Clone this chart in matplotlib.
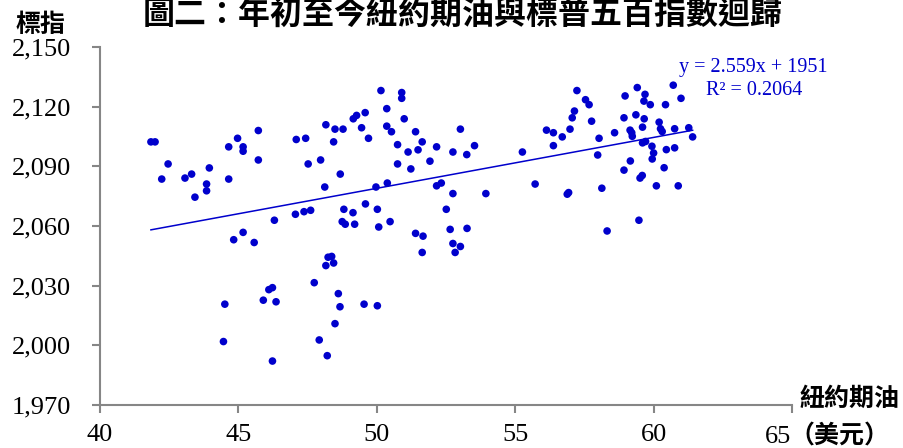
import numpy as np
import matplotlib.pyplot as plt

# 紐約期油 (美元) 與標普五百指數 weekly points
oil = [41.84, 41.99, 42.46, 42.23, 43.07, 43.31, 43.95, 43.85, 43.85, 43.43,
       44.65, 44.97, 45.17, 45.17, 45.72, 45.72, 44.65, 46.30, 44.83, 45.17,
       45.57, 44.51, 44.46, 45.90, 46.10, 46.23, 46.36, 46.23, 47.09, 47.43,
       47.52, 47.97, 48.16, 48.49, 48.78, 48.44, 48.68, 48.12, 47.06, 47.37,
       47.61, 48.81, 49.14, 48.75, 48.86, 49.20, 49.59, 48.24, 48.37, 48.16,
       48.44, 47.74, 48.61, 48.67, 48.49, 47.92, 48.21, 49.54, 49.15, 49.27,
       49.58, 49.45, 49.70,
       50.15, 50.90, 50.90, 50.36, 50.99, 50.36, 50.53, 51.40, 51.64, 50.75,
       51.13, 51.49, 52.16, 52.75, 53.02, 53.25, 53.53, 51.92, 50.75, 51.23,
       50.38, 49.97, 52.16, 52.33, 52.75, 53.94, 50.02, 50.07, 50.48, 51.40,
       51.67, 51.64, 52.51, 52.65, 53.26, 52.75, 53.02, 52.83, 50.02, 55.26,
       55.72, 56.13, 56.38, 56.70, 56.38, 56.98, 57.06, 57.14, 57.23, 56.93,
       56.88,
       57.54, 57.67, 57.76, 58.03, 57.98, 58.59, 58.93, 58.97, 59.41, 59.69,
       59.65, 59.88, 59.36, 59.66, 59.60, 59.15, 59.21, 59.23, 59.60, 59.71,
       59.94, 60.00, 59.95, 59.16, 58.93, 59.51, 59.59, 60.38, 60.10, 60.89,
       60.43, 60.71, 60.99, 60.20, 60.25, 60.31, 60.76, 61.27, 61.41, 60.46,
       60.76, 59.47, 58.32, 58.13]
spx = [2102.3, 2102.3, 2091.2, 2083.6, 2084.1, 2086.1, 2089.2, 2081.1, 2077.7, 2074.5,
       2099.8, 2104.1, 2099.8, 2097.6, 2108.0, 2093.2, 2083.6, 2062.9, 2053.1, 2056.8,
       2051.7, 2020.7, 2001.9, 2022.7, 2028.0, 2029.0, 2021.9, 1992.1, 2103.5, 2104.1,
       2091.2, 2093.2, 2110.9, 2108.7, 2108.7, 2102.3, 2086.1, 2079.6, 2065.9, 2067.2,
       2067.9, 2068.4, 2066.7, 2062.2, 2060.9, 2060.9, 2071.1, 2044.3, 2044.7, 2040.1,
       2041.4, 2031.5, 2026.0, 2019.4, 2010.9, 2002.7, 1994.8, 2020.7, 2113.9, 2115.6,
       2117.0, 2109.4, 2104.1,
       2128.1, 2127.1, 2124.2, 2119.0, 2113.9, 2110.2, 2107.4, 2107.4, 2102.3, 2100.9,
       2097.2, 2098.3, 2099.8, 2097.2, 2108.7, 2095.9, 2100.4, 2092.6, 2091.2, 2088.7,
       2081.6, 2079.6, 2080.2, 2081.6, 2076.3, 2076.3, 2068.4, 2059.5, 2062.2, 2056.3,
       2054.9, 2046.7, 2068.4, 2058.3, 2058.8, 2051.2, 2049.7, 2046.7, 2019.9, 2097.2,
       2081.1, 2108.2, 2106.9, 2104.8, 2100.4, 2108.7, 2114.4, 2117.8, 2128.1, 2076.8,
       2076.0,
       2123.5, 2121.0, 2112.7, 2104.1, 2095.7, 2106.9, 2114.4, 2125.4, 2129.6, 2126.2,
       2122.8, 2121.0, 2115.9, 2113.9, 2109.7, 2108.2, 2106.9, 2105.1, 2101.8, 2102.5,
       2100.1, 2096.7, 2093.7, 2092.7, 2088.1, 2084.1, 2085.4, 2089.3, 2080.2, 2080.2,
       2121.0, 2130.8, 2124.2, 2112.2, 2108.9, 2107.5, 2108.9, 2109.4, 2104.8, 2098.4,
       2099.3, 2062.9, 2057.5, 2079.0]

# linear trend as printed on the chart
slope = 2.559
intercept = 1951
r2 = 0.2064

x_ticks = [40, 45, 50, 55, 60, 65]
x_labels = ['40', '45', '50', '55', '60', '']
y_ticks = [1970, 2000, 2030, 2060, 2090, 2120, 2150]
y_labels = ['1,970', '2,000', '2,030', '2,060', '2,090', '2,120', '2,150']

blue = '#0000CC'
gray = '#868686'
cjk = 'Noto Sans CJK TC'
serif = 'Liberation Serif'

fig = plt.figure(figsize=(9.04, 4.48), dpi=100)
ax = fig.add_axes([100 / 904, 43 / 448, 692 / 904, 358 / 448])

ax.scatter(oil, spx, s=30, color=blue, edgecolors='none', zorder=3)

xs = np.array([min(oil), max(oil)])
ax.plot(xs, slope * xs + intercept, color=blue, lw=1.1, zorder=2)

ax.set_xlim(40, 65)
ax.set_ylim(1970, 2150)
ax.set_xticks(x_ticks)
ax.set_xticklabels(x_labels)
ax.set_yticks(y_ticks)
ax.set_yticklabels(y_labels)

for s in ['top', 'right']:
    ax.spines[s].set_visible(False)
for s in ['left', 'bottom']:
    ax.spines[s].set_color(gray)
    ax.spines[s].set_linewidth(1.5)
ax.tick_params(axis='both', colors=gray, width=1.5, length=6, direction='out',
               labelcolor='black', labelsize=19)
ax.tick_params(axis='y', pad=15)
ax.tick_params(axis='x', pad=8)
for lbl in ax.get_xticklabels() + ax.get_yticklabels():
    lbl.set_fontfamily(serif)

# trend equation
ax.text(63.59, 2139.8, f'y = {slope}x + {intercept}', color=blue, fontsize=14.5,
        family=serif, ha='center', va='center')
ax.text(63.64, 2128.3, f'R² = {r2}', color=blue, fontsize=14.5,
        family=serif, ha='center', va='center')

# last x tick label with the unit
ax.annotate('65', xy=(65, 1970), xytext=(-10, -23), textcoords='offset points',
            ha='center', va='center', fontsize=19, family=serif,
            annotation_clip=False)
ax.annotate('（美元）', xy=(65, 1970), xytext=(-2, -23), textcoords='offset points',
            ha='left', va='center', fontsize=18, family=[cjk, 'DejaVu Sans'],
            fontweight='bold', annotation_clip=False)

fig.text(850 / 904, 1 - 399 / 448, '紐約期油', fontsize=18, family=cjk,
         fontweight='bold', ha='center', va='center')
fig.text(41 / 904, 1 - 25 / 448, '標指', fontsize=18, family=cjk,
         fontweight='bold', ha='center', va='center')
fig.text(463 / 904, 1 - 15 / 448, '圖二：年初至今紐約期油與標普五百指數迴歸', fontsize=23,
         family=cjk, fontweight='bold', ha='center', va='center')

fig.savefig('out.png', dpi=100)
